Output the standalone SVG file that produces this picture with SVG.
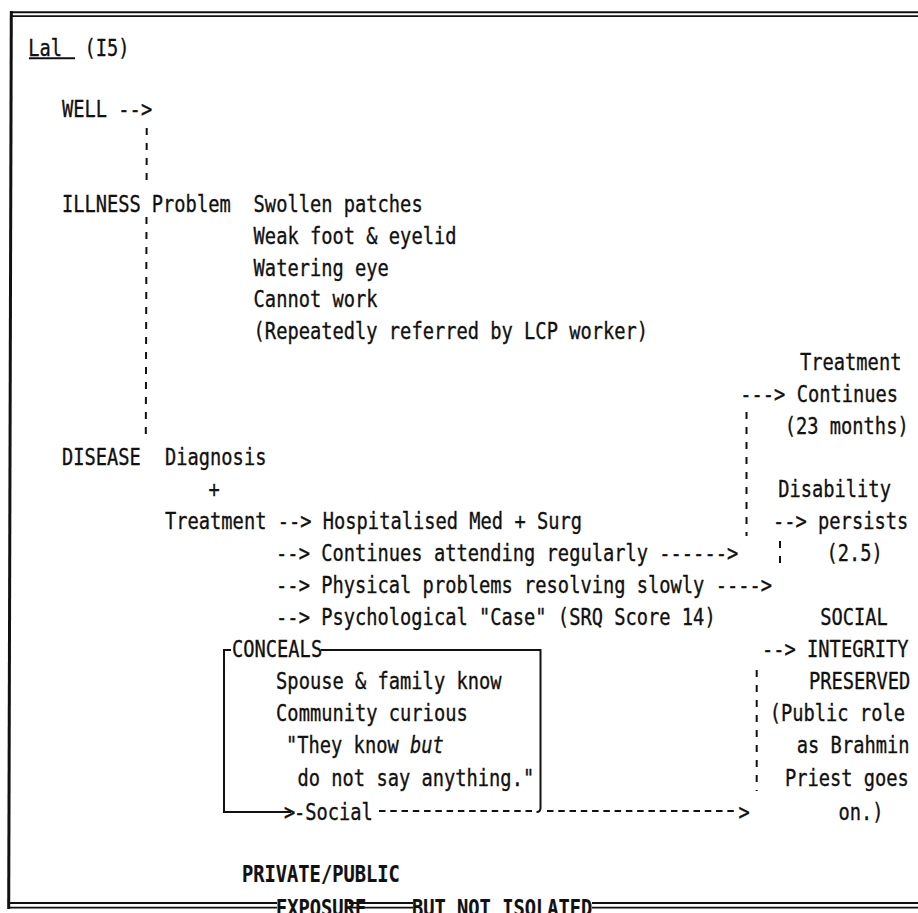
<svg xmlns="http://www.w3.org/2000/svg" width="918" height="913" viewBox="0 0 918 913" xml:space="preserve">
  <style>
    .t { font-family: "DejaVu Sans Mono", "Liberation Mono", monospace; font-size: 23px; fill: #111; stroke: #111; stroke-width: 0.35; }
    .b { font-weight: bold; stroke-width: 0.2; }
    .i { font-style: italic; }
    .rule { stroke: #111; stroke-width: 2; fill: none; }
    .dash { stroke: #111; stroke-width: 2; fill: none; stroke-dasharray: 7 8; }
    .hy { stroke: #111; stroke-width: 2; fill: none; stroke-dasharray: 6.5 4.77; }
    .frame { stroke: #111; fill: none; }
  </style>
  <rect width="918" height="913" fill="#fff"/>

  <!-- page frame: double top rule, heavy left rule, double bottom rule broken by the caption -->
  <g id="frame" class="frame">
    <line x1="10" y1="12.2" x2="918" y2="12.2" stroke-width="2"/>
    <line x1="10" y1="16.2" x2="918" y2="16.2" stroke-width="1.8"/>
    <line x1="11.3" y1="11" x2="8.7" y2="909" stroke-width="3"/>
    <path d="M8,903 H277 M349,903 H413 M592,903 H918" stroke-width="2.2"/>
    <path d="M8,907.6 H277 M349,907.6 H413 M592,907.6 H918" stroke-width="1.6"/>
  </g>

  <g id="title">
    <text class="t" transform="translate(28.2,56) scale(0.814,1)">Lal</text>
    <line class="rule" x1="29" y1="58.3" x2="75" y2="58.3"/>
    <text class="t" transform="translate(84.4,56) scale(0.814,1)">(I5)</text>
  </g>

  <g id="well">
    <text class="t" transform="translate(62,117) scale(0.814,1)">WELL --&gt;</text>
  </g>

  <g id="illness">
    <text class="t" transform="translate(62,212) scale(0.814,1)">ILLNESS</text>
    <text class="t" transform="translate(151.8,212) scale(0.814,1)">Problem</text>
  </g>

  <g id="problems">
    <text class="t" transform="translate(253.6,212) scale(0.814,1)">Swollen patches</text>
    <text class="t" transform="translate(253.6,244) scale(0.814,1)">Weak foot &amp; eyelid</text>
    <text class="t" transform="translate(253.6,275.5) scale(0.814,1)">Watering eye</text>
    <text class="t" transform="translate(253.6,307) scale(0.814,1)">Cannot work</text>
    <text class="t" transform="translate(253.6,338.5) scale(0.814,1)">(Repeatedly referred by LCP worker)</text>
  </g>

  <g id="disease">
    <text class="t" transform="translate(62,465) scale(0.814,1)">DISEASE</text>
    <text class="t" transform="translate(165,465) scale(0.814,1)">Diagnosis</text>
    <text class="t" transform="translate(208.5,497) scale(0.814,1)">+</text>
  </g>

  <g id="treatment">
    <text class="t" transform="translate(165,529) scale(0.814,1)">Treatment --&gt; Hospitalised Med + Surg</text>
    <text class="t" transform="translate(276.1,561) scale(0.814,1)">--&gt; Continues attending regularly ------&gt;</text>
    <text class="t" transform="translate(276.1,593) scale(0.814,1)">--&gt; Physical problems resolving slowly ----&gt;</text>
    <text class="t" transform="translate(276.1,625) scale(0.814,1)">--&gt; Psychological "Case" (SRQ Score 14)</text>
  </g>

  <g id="treatment-continues">
    <text class="t" transform="translate(800,370) scale(0.814,1)">Treatment</text>
    <text class="t" transform="translate(740.3,402) scale(0.814,1)">---&gt; Continues</text>
    <text class="t" transform="translate(784.7,434) scale(0.814,1)">(23 months)</text>
  </g>

  <g id="disability">
    <text class="t" transform="translate(778.2,497) scale(0.814,1)">Disability</text>
    <text class="t" transform="translate(773,529) scale(0.814,1)">--&gt; persists</text>
    <text class="t" transform="translate(826.4,561) scale(0.814,1)">(2.5)</text>
  </g>

  <g id="social-integrity">
    <text class="t" transform="translate(820.2,625) scale(0.814,1)">SOCIAL</text>
    <text class="t" transform="translate(762,657) scale(0.814,1)">--&gt; INTEGRITY</text>
    <text class="t" transform="translate(808.9,689) scale(0.814,1)">PRESERVED</text>
    <text class="t" transform="translate(769.7,721) scale(0.814,1)">(Public role</text>
    <text class="t" transform="translate(796.8,753) scale(0.814,1)">as Brahmin</text>
    <text class="t" transform="translate(784.9,786) scale(0.814,1)">Priest goes</text>
    <text class="t" transform="translate(838.5,820) scale(0.814,1)">on.)</text>
  </g>

  <g id="conceals">
    <text class="t" transform="translate(232,657) scale(0.814,1)">CONCEALS</text>
    <text class="t" transform="translate(276.1,689) scale(0.814,1)">Spouse &amp; family know</text>
    <text class="t" transform="translate(276.1,721) scale(0.814,1)">Community curious</text>
    <text class="t" transform="translate(286,753) scale(0.814,1)">"They know <tspan class="i">but</tspan></text>
    <text class="t" transform="translate(297.5,786) scale(0.814,1)">do not say anything."</text>
    <text class="t" transform="translate(284,820) scale(0.814,1)">&gt;</text>
    <text class="t" transform="translate(294,820) scale(0.814,1)">-Social</text>
  </g>

  <g id="footer">
    <text class="t b" transform="translate(242,882) scale(0.814,1)">PRIVATE/PUBLIC</text>
    <text class="t b" transform="translate(276,916) scale(0.814,1)">EXPOSURE</text>
    <text class="t b" transform="translate(412,916) scale(0.814,1)">BUT NOT ISOLATED</text>
  </g>

  <g id="connectors">
    <!-- well to illness to disease -->
    <line class="dash" x1="146.7" y1="128" x2="146.6" y2="184"/>
    <line class="dash" x1="146.5" y1="217" x2="145.8" y2="438"/>
    <!-- treatment continues / disability persists / integrity preserved -->
    <line class="dash" x1="746.5" y1="412" x2="746.5" y2="536"/>
    <line class="dash" x1="780" y1="541" x2="780" y2="566"/>
    <line class="dash" x1="756.7" y1="670" x2="756.7" y2="791"/>
    <!-- CONCEALS bracket -->
    <path class="rule" d="M231,650 H224 V812 H291"/>
    <path class="rule" d="M321,650 H540.5 V808 Q540.5,812 536.5,812"/>
    <!-- social line to integrity -->
    <line class="hy" x1="379" y1="811" x2="536" y2="811"/>
    <line class="hy" x1="547" y1="811" x2="737" y2="811"/>
    <text class="t" transform="translate(738.5,820) scale(0.814,1)">&gt;</text>
  </g>
</svg>
